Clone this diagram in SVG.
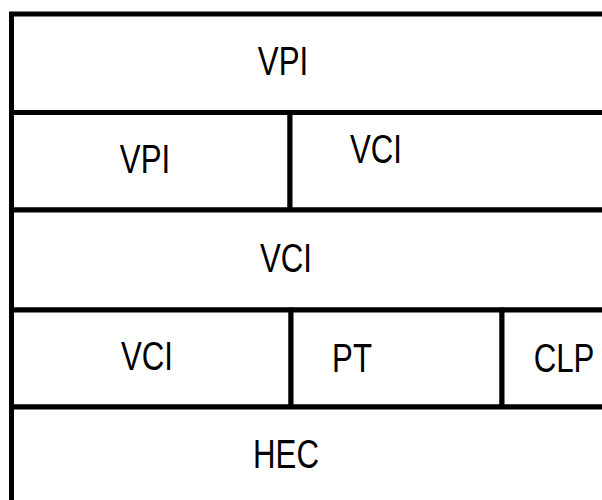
<svg xmlns="http://www.w3.org/2000/svg" width="602" height="500" viewBox="0 0 602 500">
  <style>
    .cell { fill: #ffffff; stroke: #000000; stroke-width: 5; }
    .lbl { font-family: "Liberation Sans", Arial, sans-serif; font-size: 40px; fill: #000000; text-anchor: middle; }
  </style>
  <rect x="0" y="0" width="602" height="500" fill="#ffffff"/>
  <g id="connectors"></g>
  <g id="r1-vpi">
    <rect class="cell" x="11.5" y="14" width="620" height="98.5"/>
    <text class="lbl" transform="translate(283,75) scale(0.78,1)">VPI</text>
  </g>
  <g id="r2-vpi">
    <rect class="cell" x="11.5" y="112.5" width="278.5" height="97.5"/>
    <text class="lbl" transform="translate(145,173) scale(0.78,1)">VPI</text>
  </g>
  <g id="r2-vci">
    <rect class="cell" x="290" y="112.5" width="340" height="97.5"/>
    <text class="lbl" transform="translate(376,163) scale(0.78,1)">VCI</text>
  </g>
  <g id="r3-vci">
    <rect class="cell" x="11.5" y="210" width="620" height="100"/>
    <text class="lbl" transform="translate(286,272) scale(0.78,1)">VCI</text>
  </g>
  <g id="r4-vci">
    <rect class="cell" x="11.5" y="310" width="279.5" height="97"/>
    <text class="lbl" transform="translate(147,370) scale(0.78,1)">VCI</text>
  </g>
  <g id="r4-pt">
    <rect class="cell" x="291" y="310" width="211" height="97"/>
    <text class="lbl" transform="translate(352,372) scale(0.78,1)">PT</text>
  </g>
  <g id="r4-clp">
    <rect class="cell" x="502" y="310" width="130" height="97"/>
    <text class="lbl" transform="translate(564,372) scale(0.78,1)">CLP</text>
  </g>
  <g id="r5-hec">
    <rect class="cell" x="11.5" y="407" width="620" height="120"/>
    <text class="lbl" transform="translate(286,468) scale(0.78,1)">HEC</text>
  </g>
</svg>
